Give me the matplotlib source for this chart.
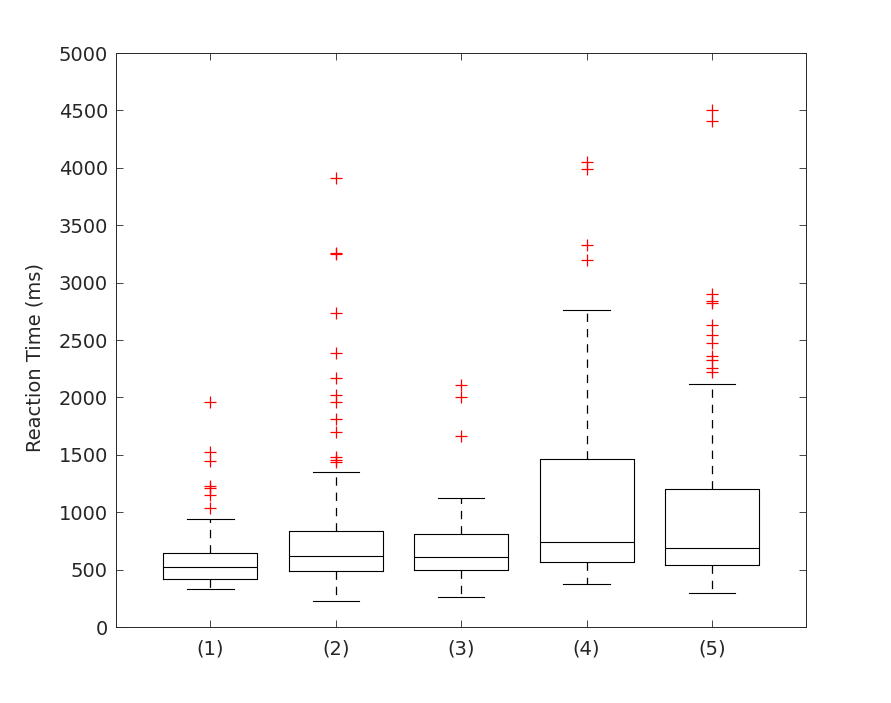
import matplotlib
matplotlib.use("Agg")
import matplotlib.pyplot as plt

# box statistics (ms)
labels = ["(1)", "(2)", "(3)", "(4)", "(5)"]
q1 = [415, 484, 499, 563, 540]
medians = [527, 616, 607, 738, 686]
q3 = [647, 839, 809, 1463, 1206]
whisker_lo = [328, 229, 265, 376, 297]
whisker_hi = [943, 1350, 1120, 2763, 2117]
outliers_1 = [1957, 1522, 1444, 1225, 1210, 1147, 1035]
outliers_2 = [3908, 3255, 3248, 2732, 2387, 2173, 2018, 1957, 1812, 1695, 1482, 1458, 1440]
outliers_3 = [2108, 2000, 1663]
outliers_4 = [4051, 3987, 3328, 3194]
outliers_5 = [4501, 4405, 2899, 2839, 2824, 2630, 2541, 2472, 2358, 2329, 2254, 2225]
outliers = [outliers_1, outliers_2, outliers_3, outliers_4, outliers_5]

plt.rcParams['font.family'] = ['DejaVu Sans']
plt.rcParams['lines.scale_dashes'] = False
txt = '#262626'

stats = []
for i in range(len(labels)):
    stats.append(dict(label=labels[i], q1=q1[i], med=medians[i], q3=q3[i],
                      whislo=whisker_lo[i], whishi=whisker_hi[i], fliers=outliers[i]))

fig = plt.figure(figsize=(8.91, 7.03), dpi=100)
ax = fig.add_axes([0.1305, 0.1081, 0.7742, 0.8165])

positions = list(range(1, len(labels) + 1))
ax.bxp(stats, positions=positions, widths=0.75, capwidths=0.37,
       boxprops=dict(color='black', linewidth=0.8),
       medianprops=dict(color='black', linewidth=0.8),
       whiskerprops=dict(color='black', linewidth=0.9, linestyle=(0, (6, 5))),
       capprops=dict(color='black', linewidth=0.8),
       flierprops=dict(marker='+', markeredgecolor='red', markersize=9,
                       markeredgewidth=0.9, linestyle='none'))

ax.set_xlim(0.25, 5.75)
ax.set_ylim(0, 5000)
ax.set_yticks(range(0, 5001, 500))
ax.set_xticks(positions)
ax.set_xticklabels(labels)
ax.set_ylabel('Reaction Time (ms)', fontsize=14, color=txt)
ax.yaxis.set_label_coords(-0.104, 0.47)
ax.tick_params(direction='in', length=5, width=0.6, colors=txt, labelsize=14,
               top=True, right=True, pad=6)
ax.tick_params(axis='x', pad=9)
for sp in ax.spines.values():
    sp.set_color(txt)
    sp.set_linewidth(0.7)

fig.savefig('out.png', dpi=100)
